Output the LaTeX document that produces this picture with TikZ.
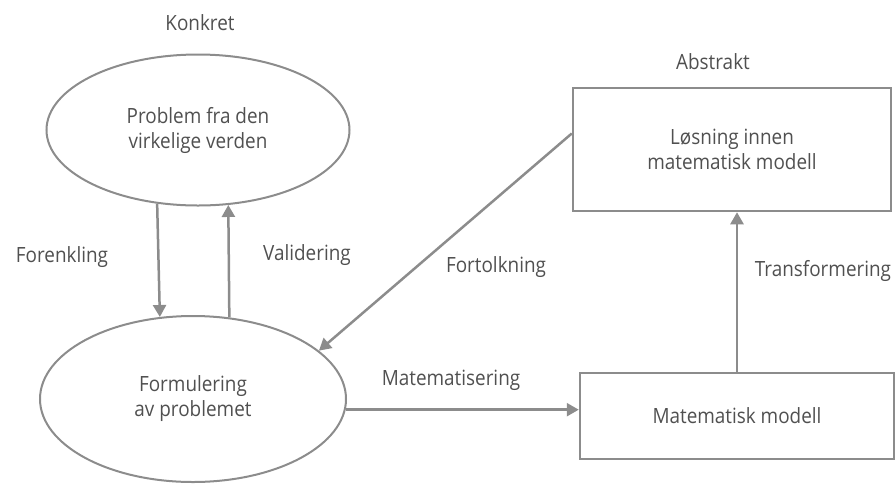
\documentclass[tikz,border=0pt]{standalone}
\usepackage{fontspec}
\setmainfont{Open Sans}[FakeStretch=0.9]
\usepackage{tikz}
\usetikzlibrary{shapes,arrows.meta}
\definecolor{linegray}{RGB}{140,140,140}
\definecolor{textgray}{RGB}{80,80,80}

\begin{document}
\begin{tikzpicture}[x=1pt,y=-1pt,
      every node/.style={text=textgray,font=\fontsize{21pt}{25pt}\selectfont,align=center},
      oval/.style={ellipse,draw=linegray,line width=2pt,inner sep=0pt},
      box/.style={rectangle,draw=linegray,line width=2.5pt,inner sep=0pt},
      arr/.style={draw=linegray,line width=2.5pt,-{Triangle[length=12pt,width=13pt]}}]
    \useasboundingbox (0,0) rectangle (896,483);
    \node[oval,minimum width=303pt,minimum height=151pt] (prob) at (198,130)
      {Problem fra den\\virkelige verden};
    \node[oval,minimum width=306pt,minimum height=166pt] (form) at (193,399)
      {Formulering\\av problemet};
    \node[box,minimum width=318pt,minimum height=123pt] (los) at (732,149.5)
      {L\o sning innen\\matematisk modell};
    \node[box,minimum width=314pt,minimum height=86pt] (mat) at (737,416)
      {Matematisk modell};
    \node (konkret) at (200,23) {Konkret};
    \node (abstrakt) at (713,62) {Abstrakt};
    \node (forenk) at (62,257) {Forenkling};
    \node (valid) at (307,255) {Validering};
    \node (fortolk) at (496,267) {Fortolkning};
    \node (transf) at (823,271) {Transformering};
    \node (matem) at (451,380) {Matematisering};
    \draw[arr] (prob.241.9) -- (form.112.8);
    \draw[arr] (form.66) -- (prob.292.8);
    \draw[arr] ([yshift=16pt]los.west) -- (form.21.6);
    \draw[arr] (form.356.2) -- (form.356.2 -| mat.west);
    \draw[arr] (mat.north) -- (mat.north |- los.south);
  \end{tikzpicture}
\end{document}
